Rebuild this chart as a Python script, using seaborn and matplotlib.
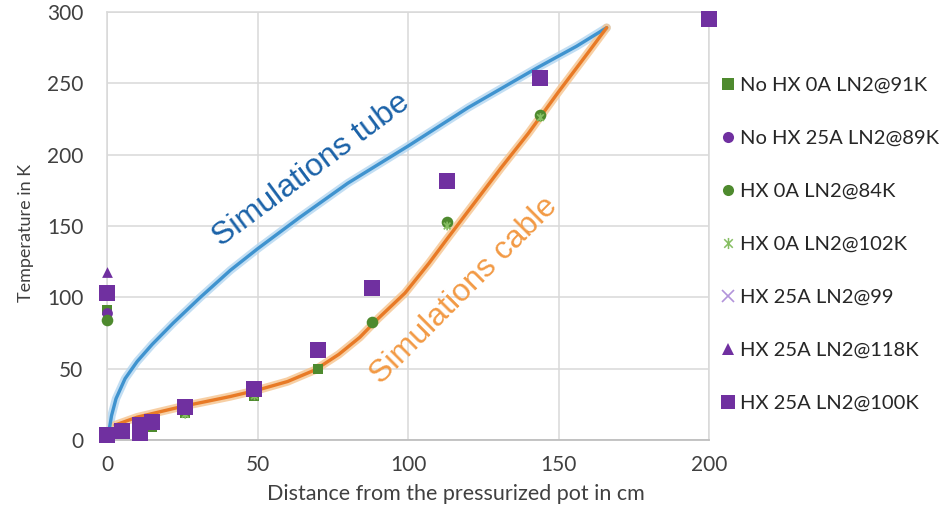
import matplotlib
matplotlib.use("Agg")
import matplotlib.pyplot as plt
from matplotlib.lines import Line2D
from matplotlib.path import Path
import seaborn as sns
import pandas as pd

# ---- measured temperatures (K) versus distance from the pressurized pot (cm) ----
sq100_x = [0, 0, 5, 11, 11, 15, 26, 49, 70, 88, 113, 144, 200]
sq100_y = [103, 3.5, 6, 5, 10.5, 12.5, 23, 36, 63, 106.5, 181.5, 254, 295]

nohx0_x = [0, 5, 11, 15, 26, 49, 70, 200]
nohx0_y = [91, 4, 4, 9, 19, 31, 50, 293]

hx0_84_x = [0, 88, 113, 144]
hx0_84_y = [84, 83, 153, 228]

hx0_102_x = [0, 26, 49, 113, 144]
hx0_102_y = [102, 18, 31, 150, 226]

nohx25_x = [0]
nohx25_y = [89]

hx25_99_x = [0]
hx25_99_y = [99]

hx25_118_x = [0]
hx25_118_y = [118]

# ---- simulated profiles ----
tube_x = [0.5, 0.8, 1.5, 3, 6, 10, 15, 22, 31, 41, 50, 64, 80, 100, 120, 143, 156, 166]
tube_y = [0, 8, 17, 29, 43, 55, 67, 82, 100, 119, 134, 156, 180, 206, 233, 261, 276, 289]

cable_x = [2.7, 10, 18, 26, 33, 41, 50, 60, 69, 77, 84, 90, 99, 107, 113, 122,
           131, 140, 150, 160, 166]
cable_y = [10.5, 16, 20, 24, 27, 30.5, 35, 41, 49, 60, 72, 85, 103, 124, 141, 166,
           191, 215, 244, 272, 289]

labels = ["No HX 0A LN2@91K", "No HX 25A LN2@89K", "HX 0A LN2@84K",
          "HX 0A LN2@102K", "HX 25A LN2@99", "HX 25A LN2@118K", "HX 25A LN2@100K"]

x_ticks = [0, 50, 100, 150, 200]
y_ticks = [0, 50, 100, 150, 200, 250, 300]

GREEN = "#4E8A2E"
GREEN_LIGHT = "#86BE62"
PURPLE = "#7030A0"
PURPLE_LIGHT = "#B293DA"
BLUE = "#3F93CF"
ORANGE = "#E87A26"

# asterisk-like star: an x with a vertical bar
star = Path([(-1, -1), (1, 1), (-1, 1), (1, -1), (0, -1.3), (0, 1.3)],
            [Path.MOVETO, Path.LINETO, Path.MOVETO, Path.LINETO, Path.MOVETO, Path.LINETO])

sns.set_style("white")
plt.rcParams["font.family"] = ["Lato", "DejaVu Sans"]

fig = plt.figure(figsize=(9.53, 5.11), dpi=100)
ax = fig.add_axes([107 / 953, 1 - 440 / 511, (709 - 107) / 953, (440 - 12) / 511])

# simulation curves with a soft halo
tube = pd.DataFrame({"x": tube_x, "y": tube_y})
cable = pd.DataFrame({"x": cable_x, "y": cable_y})
sns.lineplot(data=tube, x="x", y="y", sort=False, estimator=None, ax=ax,
             color="#B3D6F0", lw=6, alpha=0.8, solid_capstyle="round", zorder=2)
sns.lineplot(data=tube, x="x", y="y", sort=False, estimator=None, ax=ax,
             color=BLUE, lw=2.4, solid_capstyle="round", zorder=3)
sns.lineplot(data=cable, x="x", y="y", sort=False, estimator=None, ax=ax,
             color="#F6C48E", lw=6, alpha=0.8, solid_capstyle="round", zorder=2)
sns.lineplot(data=cable, x="x", y="y", sort=False, estimator=None, ax=ax,
             color=ORANGE, lw=2.4, solid_capstyle="round", zorder=3)

# measured series
series = [
    (nohx0_x, nohx0_y, "s", GREEN, 55, 0),
    (nohx25_x, nohx25_y, "o", PURPLE, 60, 0),
    (hx0_84_x, hx0_84_y, "o", GREEN, 70, 0),
    (hx0_102_x, hx0_102_y, star, GREEN_LIGHT, 40, 1.2),
    (hx25_99_x, hx25_99_y, "x", PURPLE_LIGHT, 50, 1.2),
    (hx25_118_x, hx25_118_y, "^", PURPLE, 60, 0),
    (sq100_x, sq100_y, "s", PURPLE, 130, 0),
]
for i, (xs, ys, m, c, s, lw) in enumerate(series):
    df = pd.DataFrame({"x": xs, "y": ys})
    if lw:
        sns.scatterplot(data=df, x="x", y="y", marker=m, color=c, s=s, ax=ax,
                        linewidth=lw, edgecolor=c, facecolors="none",
                        zorder=4 + i, clip_on=False, legend=False)
    else:
        sns.scatterplot(data=df, x="x", y="y", marker=m, color=c, s=s, ax=ax,
                        linewidth=0, zorder=4 + i, clip_on=False, legend=False)

ax.set_xlim(0, 200)
ax.set_ylim(0, 300)
ax.set_xticks(x_ticks)
ax.set_yticks(y_ticks)
ax.grid(True, color="#D9D9D9", lw=1.1)
ax.set_axisbelow(True)
for side in ["top", "left", "right"]:
    ax.spines[side].set_color("#D9D9D9")
    ax.spines[side].set_linewidth(1.1)
ax.spines["bottom"].set_color("#BFBFBF")
ax.spines["bottom"].set_linewidth(1.3)
ax.tick_params(axis="both", length=0, labelsize=15, labelcolor="#404040")
ax.tick_params(axis="y", pad=17)
ax.tick_params(axis="x", pad=11)
ax.set_xlabel("")
ax.set_ylabel("")

fig.text(456 / 953, 1 - 494 / 511, "Distance from the pressurized pot in cm",
         ha="center", va="center", fontsize=15.5, color="#404040")
fig.text(26 / 953, 1 - 233 / 511, "Temperature in K", rotation=90,
         ha="center", va="center", fontsize=13, color="#404040")

ax.text(68.0, 189, "Simulations tube", rotation=36.6, rotation_mode="anchor",
        ha="center", va="center", fontsize=23, color="#1B62A8",
        family=["Liberation Sans"])
ax.text(118.6, 105, "Simulations cable", rotation=45, rotation_mode="anchor",
        ha="center", va="center", fontsize=23, color="#F29A45",
        family=["Liberation Sans"])

# legend
handles = [
    Line2D([], [], ls="none", marker="s", color=GREEN, ms=8, mew=0),
    Line2D([], [], ls="none", marker="o", color=PURPLE, ms=8, mew=0),
    Line2D([], [], ls="none", marker="o", color=GREEN, ms=8, mew=0),
    Line2D([], [], ls="none", marker=star, color=GREEN_LIGHT, ms=8, mew=1.1,
           mfc="none"),
    Line2D([], [], ls="none", marker="x", color=PURPLE_LIGHT, ms=8, mew=1.2),
    Line2D([], [], ls="none", marker="^", color=PURPLE, ms=8, mew=0),
    Line2D([], [], ls="none", marker="s", color=PURPLE, ms=10, mew=0),
]
fig.legend(handles, labels, loc="upper left",
           bbox_to_anchor=(721 / 953, 1 - 77 / 511), frameon=False,
           fontsize=14.5, labelcolor="#262626", handlelength=0.65,
           handletextpad=0.3, labelspacing=1.78, borderpad=0, borderaxespad=0)

fig.savefig("out.png", dpi=100)
